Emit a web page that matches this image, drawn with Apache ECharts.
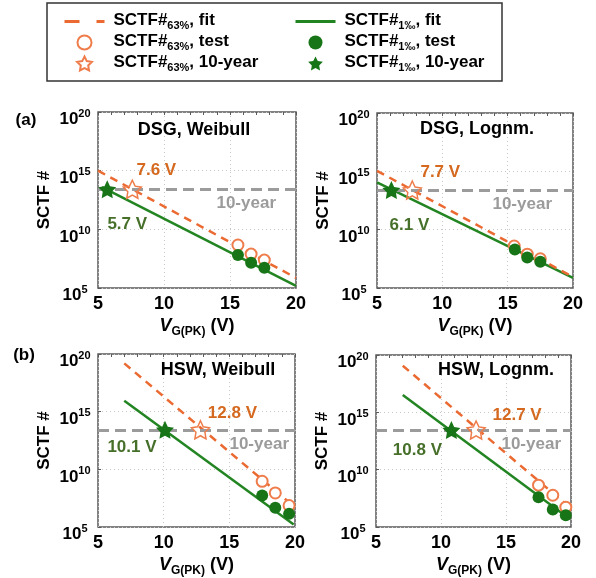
<!DOCTYPE html>
<html><head><meta charset="utf-8">
<script src="https://cdn.jsdelivr.net/npm/echarts@6/dist/echarts.min.js"></script>
<style>html,body{margin:0;padding:0;background:#fff}#c{width:596px;height:578px}</style>
</head><body><div id="c"></div>
<script>
// ---------- data ----------
const panelTitles = ['DSG, Weibull', 'DSG, Lognm.', 'HSW, Weibull', 'HSW, Lognm.'];
const xTicks = [5, 10, 15, 20];
const yExpTicks = [5, 10, 15, 20];
const tenYear = [2.6e13, 2.5e13, 2.7e13, 2.9e13];
const fit63 = [
  [[5, 1.0e15], [20, 7.2e5]],
  [[5, 1.1e15], [20, 8.7e5]],
  [[7.0, 1.55e19], [19.9, 6.5e6]],
  [[7.06, 1.17e19], [19.8, 6.6e6]]
];
const fit1 = [
  [[5.3, 4.0e13], [20, 1.5e5]],
  [[5, 1.15e14], [20, 7.2e5]],
  [[7.0, 8.7e15], [19.9, 1.7e5]],
  [[7.06, 3.3e16], [19.8, 6.3e5]]
];
const test63 = [
  [[15.6, 4.6e8], [16.6, 7.8e7], [17.6, 2.4e7]],
  [[15.5, 4.0e8], [16.5, 8.0e7], [17.5, 3.2e7]],
  [[17.5, 9.3e8], [18.5, 9.1e7], [19.55, 7.4e6]],
  [[17.5, 4.5e8], [18.6, 6.0e7], [19.6, 5.5e6]]
];
const test1 = [
  [[15.6, 6.5e7], [16.6, 1.4e7], [17.6, 5.4e6]],
  [[15.55, 2.0e8], [16.5, 4.1e7], [17.5, 1.74e7]],
  [[17.5, 5.4e7], [18.5, 4.7e6], [19.55, 1.4e6]],
  [[17.5, 4.0e7], [18.6, 3.4e6], [19.6, 1.1e6]]
];
const year63 = [[[7.6, 2.6e13]], [[7.7, 2.5e13]], [[12.8, 2.7e13]], [[12.7, 2.9e13]]];
const year1 = [[[5.7, 2.6e13]], [[6.1, 2.5e13]], [[10.1, 2.7e13]], [[10.8, 2.9e13]]];

// ---------- styling ----------
const ORANGE = '#EA6A32', ORANGE_TXT = '#D4691F', ORANGE_MK = '#EF7D4C';
const GREEN = '#228522', GREEN_MK = '#177517', GREEN_TXT = '#46702A';
const GRAY = '#9B9B9B', FRAME = '#5a5a5a';
const FONT = 'Arial, "Liberation Sans", Helvetica, sans-serif';
const STAR = 'path://M0,-10L2.94,-4.05L9.51,-3.09L4.76,1.55L5.88,8.09L0,5L-5.88,8.09L-4.76,1.55L-9.51,-3.09L-2.94,-4.05Z';

const N63 = 'SCTF#63%', N1 = 'SCTF#1‰';
const names = {
  fit63: N63 + ', fit', test63: N63 + ', test', yr63: N63 + ', 10-year',
  fit1: N1 + ', fit', test1: N1 + ', test', yr1: N1 + ', 10-year'
};

const grids = [
  {left: 98, top: 112, width: 198, height: 176},
  {left: 377, top: 113, width: 196, height: 175},
  {left: 98, top: 354, width: 197, height: 174},
  {left: 376, top: 355, width: 195, height: 173}
];
const labelOff = [
  {o63: [24, -19], o1: [20, 35], ten: [14, 6]},
  {o63: [28, -18], o1: [18, 35], ten: [15, 6]},
  {o63: [32, -16], o1: [-33, 18], ten: [0, 6]},
  {o63: [41, -15], o1: [-34, 20], ten: [4, 6]}
];

const supRich = {
  a: {fontSize: 17, fontWeight: 'bold', fontFamily: FONT, color: '#000', lineHeight: 20, verticalAlign: 'bottom'},
  s: {fontSize: 11, fontWeight: 'bold', fontFamily: FONT, color: '#000', lineHeight: 11, verticalAlign: 'top'}
};
const xNameRich = {
  i: {fontSize: 18, fontWeight: 'bold', fontStyle: 'italic', fontFamily: FONT, color: '#000', lineHeight: 21, verticalAlign: 'top'},
  sub: {fontSize: 12, fontWeight: 'bold', fontFamily: FONT, color: '#000', lineHeight: 12, padding: [12, 0, 0, 0], verticalAlign: 'bottom'},
  n: {fontSize: 18, fontWeight: 'bold', fontFamily: FONT, color: '#000', lineHeight: 21, verticalAlign: 'top'}
};

const xAxis = [], yAxis = [], series = [];
grids.forEach((g, i) => {
  xAxis.push({
    type: 'value', gridIndex: i, min: xTicks[0], max: xTicks[xTicks.length - 1], interval: xTicks[1] - xTicks[0],
    position: 'bottom',
    axisLine: {show: false}, axisTick: {show: false},
    axisLabel: {fontSize: 18, fontWeight: 'bold', fontFamily: FONT, color: '#000', margin: 7},
    splitLine: {show: true, lineStyle: {type: [1, 3], color: '#c8c8c8', width: 1}},
    name: '{i|V}{sub|G(PK)}{n| (V)}', nameLocation: 'middle', nameGap: 17,
    nameTextStyle: {rich: xNameRich}
  });
  xAxis.push({
    type: 'value', gridIndex: i, min: 5, max: 20, interval: 1, position: 'top',
    axisLine: {show: false}, axisLabel: {show: false}, splitLine: {show: false},
    axisTick: {show: true, inside: true, length: 3, lineStyle: {color: FRAME, width: 1}}
  });
  yAxis.push({
    type: 'log', logBase: 10, gridIndex: i, min: Math.pow(10, yExpTicks[0]), max: Math.pow(10, yExpTicks[yExpTicks.length - 1]),
    interval: yExpTicks[1] - yExpTicks[0], splitNumber: 3,
    axisLine: {show: false}, axisTick: {show: true, inside: true, length: 3, lineStyle: {color: FRAME}},
    minorTick: {show: false},
    axisLabel: {
      formatter: v => '{a|10}{s|' + Math.round(Math.log10(v)) + '}',
      rich: supRich, align: 'center', margin: 23, padding: [12, 0, 0, 0]
    },
    splitLine: {show: true, lineStyle: {type: [1, 3], color: '#c8c8c8', width: 1}},
    name: 'SCTF #', nameLocation: 'middle', nameGap: 45,
    nameTextStyle: {fontSize: 17, fontWeight: 'bold', fontFamily: FONT, color: '#000'}
  });
  const xi = 2 * i, yi = i, L = labelOff[i];
  series.push({
    name: '10-year-line', type: 'line', xAxisIndex: xi, yAxisIndex: yi, data: [], z: 1,
    markLine: {
      silent: true, symbol: 'none', animation: false,
      data: [{yAxis: tenYear[i]}],
      lineStyle: {color: GRAY, width: 3, type: [11, 6]},
      label: {show: true, position: 'insideEndBottom', formatter: '10-year', distance: L.ten[1],
        padding: [0, L.ten[0], 0, 0],
        fontSize: 17, fontWeight: 'bold', fontFamily: FONT, color: GRAY}
    }
  });
  series.push({
    name: names.fit1, type: 'line', xAxisIndex: xi, yAxisIndex: yi, data: fit1[i], symbol: 'none', z: 2,
    lineStyle: {color: GREEN, width: 2.5}, itemStyle: {color: GREEN}
  });
  series.push({
    name: names.fit63, type: 'line', xAxisIndex: xi, yAxisIndex: yi, data: fit63[i], symbol: 'none', z: 3,
    lineStyle: {color: ORANGE, width: 2.5, type: [8, 6]}, itemStyle: {color: ORANGE}
  });
  series.push({
    name: names.test63, type: 'scatter', xAxisIndex: xi, yAxisIndex: yi, data: test63[i], z: 4,
    symbol: 'circle', symbolSize: 11,
    itemStyle: {color: '#fff', borderColor: ORANGE_MK, borderWidth: 2, opacity: 1}
  });
  series.push({
    name: names.test1, type: 'scatter', xAxisIndex: xi, yAxisIndex: yi, data: test1[i], z: 5,
    symbol: 'circle', symbolSize: 12,
    itemStyle: {color: GREEN_MK, opacity: 1}
  });
  series.push({
    name: names.yr63, type: 'scatter', xAxisIndex: xi, yAxisIndex: yi, data: year63[i], z: 6,
    symbol: STAR, symbolSize: 18,
    itemStyle: {color: 'rgba(255,255,255,0)', borderColor: ORANGE_MK, borderWidth: 1.5, opacity: 1},
    label: {show: true, position: 'inside', offset: L.o63, formatter: p => p.value[0].toFixed(1) + ' V',
      fontSize: 17, fontWeight: 'bold', fontFamily: FONT, color: ORANGE_TXT}
  });
  series.push({
    name: names.yr1, type: 'scatter', xAxisIndex: xi, yAxisIndex: yi, data: year1[i], z: 7,
    symbol: STAR, symbolSize: 18,
    itemStyle: {color: GREEN_MK, opacity: 1},
    label: {show: true, position: 'inside', offset: L.o1, formatter: p => p.value[0].toFixed(1) + ' V',
      fontSize: 17, fontWeight: 'bold', fontFamily: FONT, color: GREEN_TXT}
  });
});

const legRich = {
  a: {fontSize: 17, fontWeight: 'bold', fontFamily: FONT, color: '#000', lineHeight: 19, verticalAlign: 'top'},
  s: {fontSize: 11, fontWeight: 'bold', fontFamily: FONT, color: '#000', lineHeight: 11, padding: [8, 0, 0, 0], verticalAlign: 'bottom'}
};
const legFmt = n => n.replace(/^SCTF#(63%|1‰)(.*)$/, '{a|SCTF#}{s|$1}{a|$2}');
const legendBase = {
  orient: 'vertical', itemWidth: 40, itemHeight: 14, itemGap: 2, top: 12, padding: 0,
  formatter: legFmt, textStyle: {rich: legRich, padding: [0, 0, 0, 4]}, selectedMode: false
};
const hideSym = {opacity: 0};

const panelTextPos = [[194, 130], [477, 129], [218, 370], [496, 370]];
const graphic = [
  {type: 'rect', shape: {x: 47, y: 3, width: 455, height: 78}, style: {fill: 'none', stroke: '#333', lineWidth: 1.5}, z: 100},
  {type: 'text', x: 26, y: 120, style: {text: '(a)', font: 'bold 17px ' + FONT, fill: '#000', textAlign: 'center', textVerticalAlign: 'middle'}},
  {type: 'text', x: 24, y: 355, style: {text: '(b)', font: 'bold 17px ' + FONT, fill: '#000', textAlign: 'center', textVerticalAlign: 'middle'}}
];
panelTitles.forEach((t, i) => graphic.push({type: 'text', x: panelTextPos[i][0], y: panelTextPos[i][1],
  style: {text: t, font: 'bold 18px ' + FONT, fill: '#000', textAlign: 'center', textVerticalAlign: 'middle'}, z: 50}));

const option = {
  animation: false,
  backgroundColor: '#fff',
  grid: grids.map(g => Object.assign({show: true, borderColor: FRAME, borderWidth: 1.5, backgroundColor: 'transparent', containLabel: false}, g)),
  xAxis, yAxis, series,
  legend: [
    Object.assign({}, legendBase, {left: 63, data: [
      {name: names.fit63, itemStyle: hideSym, lineStyle: {type: [15, 17], width: 3, color: ORANGE}},
      names.test63, names.yr63]}),
    Object.assign({}, legendBase, {left: 294, data: [
      {name: names.fit1, itemStyle: hideSym, lineStyle: {width: 3, color: GREEN}},
      names.test1, names.yr1]})
  ],
  graphic
};
const chart = echarts.init(document.getElementById('c'), null, {renderer: 'canvas'});
chart.setOption(option);
</script></body></html>
